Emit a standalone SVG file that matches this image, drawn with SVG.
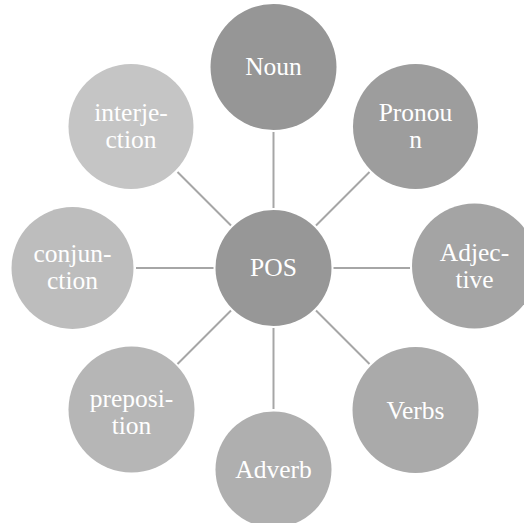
<svg xmlns="http://www.w3.org/2000/svg" width="524" height="523" viewBox="0 0 524 523">
  <style>
    .lbl { font-family: "Liberation Serif", "Times New Roman", serif; font-size: 25.5px; fill: #ffffff; text-anchor: middle; }
    .edge { stroke: #a6a6a6; stroke-width: 2; fill: none; }
  </style>
  <rect width="524" height="523" fill="#ffffff"/>
  <g id="connectors">
    <line class="edge" x1="273.5" y1="208" x2="273.5" y2="132"/>
    <line class="edge" x1="316" y1="225.5" x2="369.5" y2="172"/>
    <line class="edge" x1="333.5" y1="268" x2="410" y2="268"/>
    <line class="edge" x1="316" y1="310.5" x2="369.5" y2="364"/>
    <line class="edge" x1="273.5" y1="328" x2="273.5" y2="409"/>
    <line class="edge" x1="231" y1="310.5" x2="177.5" y2="364"/>
    <line class="edge" x1="213.5" y1="268" x2="136" y2="268"/>
    <line class="edge" x1="231" y1="225.5" x2="177.5" y2="172"/>
  </g>
  <g id="pos">
    <circle cx="273.5" cy="268" r="58" fill="#979797"/>
    <text class="lbl" x="273.5" y="276">POS</text>
  </g>
  <g id="noun">
    <circle cx="273.5" cy="67" r="63" fill="#969696"/>
    <text class="lbl" x="273.5" y="75">Noun</text>
  </g>
  <g id="pronoun">
    <circle cx="415.5" cy="126.5" r="62.5" fill="#9d9d9d"/>
    <text class="lbl" x="415.5" y="121">Pronou</text>
    <text class="lbl" x="415.5" y="147.5">n</text>
  </g>
  <g id="adjective">
    <circle cx="474.5" cy="266" r="62.5" fill="#a4a4a4"/>
    <text class="lbl" x="474.5" y="261">Adjec-</text>
    <text class="lbl" x="474.5" y="288">tive</text>
  </g>
  <g id="verbs">
    <circle cx="415.5" cy="410" r="63" fill="#aaaaaa"/>
    <text class="lbl" x="415.5" y="418.5">Verbs</text>
  </g>
  <g id="adverb">
    <circle cx="273.5" cy="469.5" r="58" fill="#afafaf"/>
    <text class="lbl" x="273.5" y="477.5">Adverb</text>
  </g>
  <g id="preposition">
    <circle cx="131.5" cy="409.5" r="63" fill="#b6b6b6"/>
    <text class="lbl" x="131.5" y="407">preposi-</text>
    <text class="lbl" x="131.5" y="433.5">tion</text>
  </g>
  <g id="conjunction">
    <circle cx="72.5" cy="268" r="61" fill="#bdbdbd"/>
    <text class="lbl" x="72.5" y="262">conjun-</text>
    <text class="lbl" x="72.5" y="289">ction</text>
  </g>
  <g id="interjection">
    <circle cx="131" cy="126.5" r="62.5" fill="#c5c5c5"/>
    <text class="lbl" x="131" y="121">interje-</text>
    <text class="lbl" x="131" y="147.5">ction</text>
  </g>
</svg>
